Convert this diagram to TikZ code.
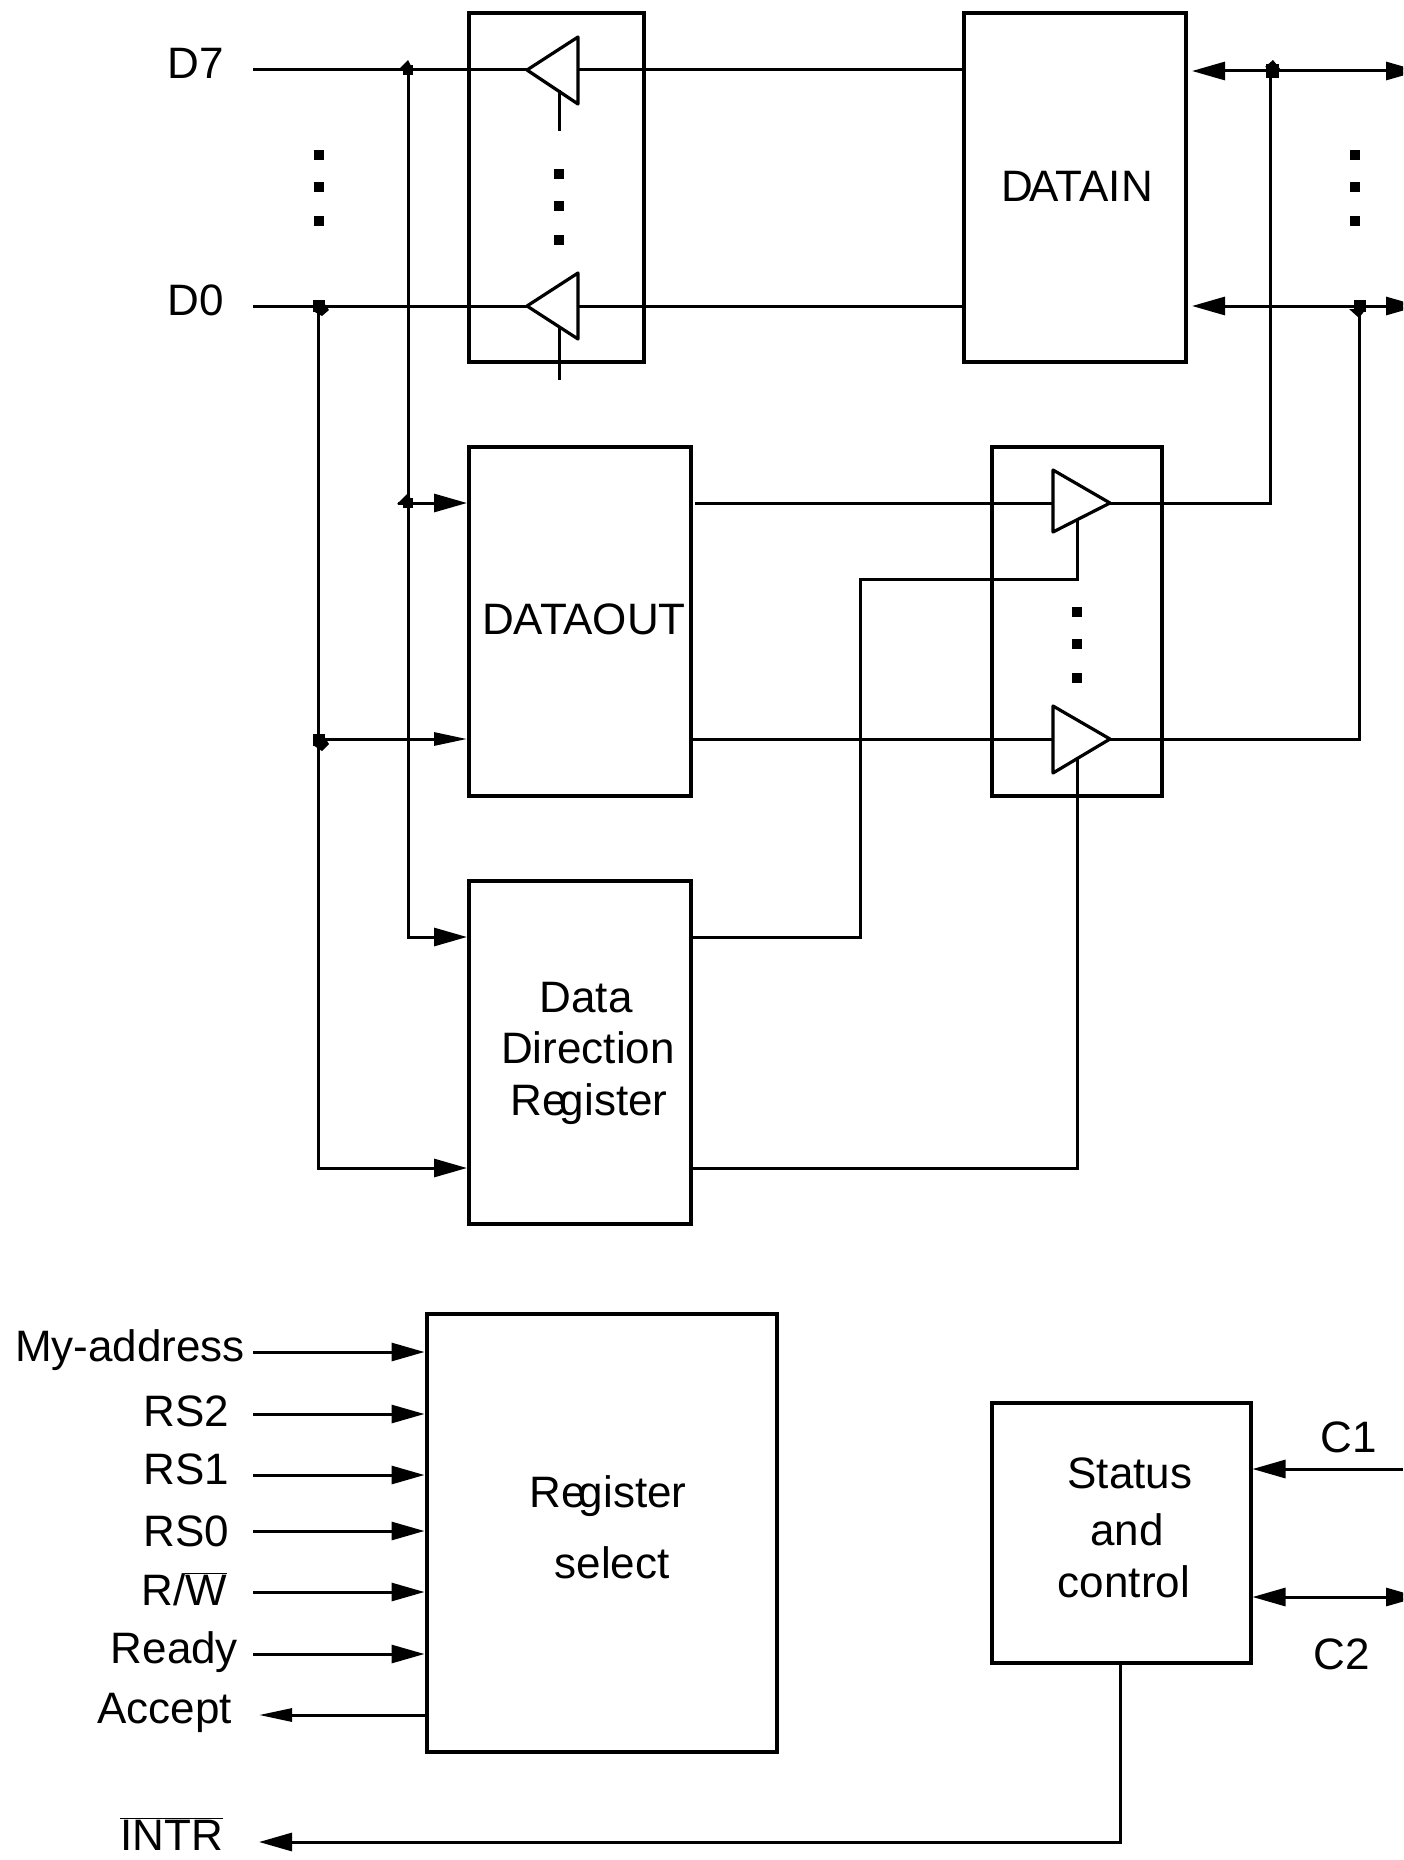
\documentclass[tikz,border=0pt]{standalone}
\usepackage{fontspec}
\setmainfont{Liberation Sans}
\usetikzlibrary{arrows.meta}
\tikzset{
  wire/.style={line width=3pt,line cap=butt,line join=miter},
  box/.style={draw,line width=3.2pt,inner sep=0pt,outer sep=0pt},
  buf/.style={draw,line width=3.2pt,line join=round,fill=white},
  lab/.style={inner sep=0pt,outer sep=0pt,font=\fontsize{44}{44}\selectfont,anchor=base},
  labr/.style={lab,anchor=base east},
  dot/.style={fill=black,inner sep=0pt,outer sep=0pt,minimum size=10pt},
  tipR/.style={-{Triangle[length=33pt,width=18pt]}},
  tipRn/.style={-{Triangle[length=33pt,width=13pt]}},
  tipL/.style={{Triangle[length=33pt,width=18pt]}-},
  tipB/.style={{Triangle[length=33pt,width=18pt]}-{Triangle[length=33pt,width=18pt]}},
}
\newcommand{\mybox}[5]{\node[box,minimum width=#4pt-#2pt,minimum height=#5pt-#3pt] (#1) at ({(#2+#4)/2},{(#3+#5)/2}) {};}
\begin{document}
\begin{tikzpicture}[x=1pt,y=-1pt]
\useasboundingbox (0,0) rectangle (1403,1860);
\clip (0,0) rectangle (1403,1860);
% boxes
\mybox{inbuf}{469}{13}{644}{362}
\mybox{datain}{964}{13}{1186}{362}
\mybox{dataout}{469}{447}{691}{796}
\mybox{outbuf}{992}{447}{1162}{796}
\mybox{ddr}{469}{881}{691}{1224}
\mybox{regsel}{427}{1314}{777}{1752}
\mybox{status}{992}{1403}{1251}{1663}
% named points
\coordinate (d7s) at (253,70);  \coordinate (d0s) at (253,306);
\coordinate (j7) at (408,70);   \coordinate (j0) at (318,306);
\coordinate (j7o) at (408,503); \coordinate (j0o) at (318,739);
\coordinate (st7) at (398,503);
\coordinate (ib7t) at (527,70); \coordinate (ib7b) at (578,70);
\coordinate (ib0t) at (527,306);\coordinate (ib0b) at (578,306);
\coordinate (ob7b) at (1053,503);\coordinate (ob7t) at (1110,503);
\coordinate (ob0b) at (1053,739);\coordinate (ob0t) at (1110,739);
\coordinate (jr7) at (1270,71); \coordinate (jr0) at (1359,306);
\coordinate (e7) at (1419,71);  \coordinate (e0) at (1419,306);
% wires top
\draw[wire] (d7s) -- (ib7t);
\draw[wire] (d0s) -- (ib0t);
\draw[wire] (ib7b) -- (datain.west |- ib7b);
\draw[wire] (ib0b) -- (datain.west |- ib0b);
\draw[wire,tipR] (j7) -- (408,937) -- (467,937);
\draw[wire,tipR] (j0) -- (318,1168) -- (467,1168);
\draw[wire,tipR] (st7) -- (467,503);
\draw[wire,tipRn] (j0o) -- (467,739);
\draw[wire,tipB] (1192,71) -- (e7);
\draw[wire,tipB] (1192,306) -- (e0);
\draw[wire] (695,503) -- (ob7b);
\draw[wire] (dataout.east |- ob0b) -- (ob0b);
\draw[wire] (ob7t) -- (1270,503) -- (jr7);
\draw[wire] (ob0t) -- (1359,739) -- (jr0);
\draw[wire] (ddr.east |- 0,937) -- (860,937) -- (860,579) -- (1077,579) -- (1077,520);
\draw[wire] (ddr.east |- 0,1168) -- (1077,1168) -- (1077,757);
% buffers
\draw[buf] (ib7t) -- (578,37) -- (578,104) -- cycle;
\draw[buf] (ib0t) -- (578,273) -- (578,339) -- cycle;
\draw[buf] (ob7t) -- (1053,470) -- (1053,532) -- cycle;
\draw[buf] (ob0t) -- (1053,706) -- (1053,773) -- cycle;
\draw[wire] (559,90) -- (559,131);
\draw[wire] (559,328) -- (559,380);
\draw[wire] (1077,520) -- (1077,579);
\draw[wire] (1077,757) -- (1077,800);
% junctions
\node[dot,minimum size=10pt] (qa) at (408,70) {};
\node[dot,minimum size=12pt] (qb) at (319,306) {};
\node[dot,minimum size=10pt] (qc) at (408,503) {};
\node[dot,minimum size=12pt] (qd) at (319,740) {};
\node[dot,minimum size=13pt] (qe) at (1272,71) {};
\node[dot,minimum size=12pt] (qf) at (1360,306) {};
\fill (398,70) -- (408,60) -- (413,70) -- cycle;
\fill (1265,67) -- (1273,60) -- (1281,70) -- cycle;
\fill (1349,309) -- (1359,318) -- (1366,309) -- cycle;
\fill (397,504) -- (408,493) -- (413,504) -- cycle;
\fill (313,745) -- (322,751) -- (329,744) -- (324,736) -- cycle;
\fill (313,311) -- (322,316) -- (329,310) -- (324,303) -- cycle;
% dots
\foreach \x/\n in {319/a,559/b,1355/c}
  \foreach \y/\m in {155/a,187/b,221/c}
    {\pgfmathsetmacro{\yy}{\x==559?\y+19:\y}\node[dot] (v\n\m) at (\x,\yy) {};}
\foreach \y/\m in {612/a,644/b,678/c} \node[dot] (w\m) at (1077,\y) {};
% lower arrows
\foreach \y in {1352,1414,1475,1531,1592,1654}
  \draw[wire,tipR,shorten >=2.5pt] (253,\y) -- (regsel.west |- 0,\y);
\draw[wire,{Triangle[length=33pt,width=13pt]}-] (259,1715) -- (regsel.west |- 0,1715);
\draw[wire,tipL] (259,1842) -- (1120,1842) -- (status.south -| 1120,0);
\draw[wire,tipL,shorten <=1.5pt] (status.east |- 0,1469) -- (1403,1469);
\draw[wire,tipB,shorten <=1.5pt] (status.east |- 0,1597) -- (1419,1597);
% labels
\node[lab] (tD7) at (196,78) {D7};
\node[lab] (tD0) at (196,315) {D0};
\node[lab] (tin) at (1077,201) {D\kern-3pt ATAIN};
\node[lab] (tout) at (584,634) {DATAOUT};
\node[lab] (t1) at (586,1012) {Data};
\node[lab] (t2) at (588,1063) {Direction};
\node[lab] (t3) at (589,1115) {Re\kern-7pt gister};
\node[lab] (t4) at (608,1507) {Re\kern-7pt gister};
\node[lab] (t5) at (612,1578) {select};
\node[lab] (t6) at (1130,1488) {Status};
\node[lab] (t7) at (1127,1545) {and};
\node[lab] (t8) at (1124,1597) {control};
\node[lab] (c1) at (1349,1452) {C1};
\node[lab] (c2) at (1342,1669) {C2};
\node[labr] (a1) at (245,1361) {My-address};
\node[labr] (a2) at (229,1426) {RS2};
\node[labr] (a3) at (229,1484) {RS1};
\node[labr] (a4) at (229,1546) {RS0};
\node[labr] (a5) at (227,1605) {R/$\overline{\mbox{W}}$};
\node[labr] (a6) at (238,1663) {Ready};
\node[labr] (a7) at (232,1723) {Accept};
\node[labr] (a8) at (223,1850) {$\overline{\mbox{INTR}}$};
\end{tikzpicture}
\end{document}
